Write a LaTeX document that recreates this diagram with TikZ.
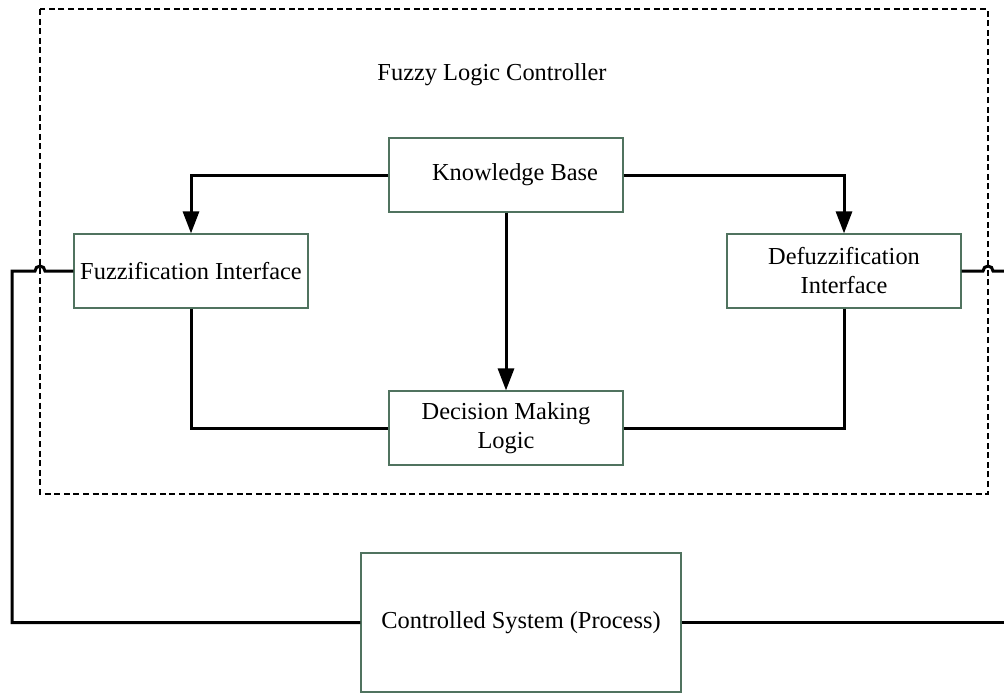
\documentclass[tikz,border=0pt]{standalone}
\usepackage{fontspec}
\setmainfont{Liberation Serif}
\usetikzlibrary{arrows.meta}
\definecolor{boxline}{RGB}{80,115,95}
\tikzset{
  block/.style={draw=boxline, line width=0.6pt, fill=white, minimum width=117pt,
    minimum height=37pt, inner sep=1pt, align=center,
    font=\fontsize{12.2}{14.5}\selectfont},
  link/.style={line width=1.5pt, black},
  flow/.style={link, -{Triangle[length=11pt, width=8pt]}},
  frame/.style={line width=1.3pt, dash pattern=on 3pt off 1.8pt},
  caption/.style={font=\fontsize{12.2}{14.5}\selectfont}
}
\begin{document}
\begin{tikzpicture}[x=0.5pt, y=-0.5pt]
  \useasboundingbox (0,0) rectangle (1004,693);

  % controller boundary
  \draw[frame] (40,9) rectangle (988,494);
  \node[caption] (title) at (492,75) {Fuzzy Logic Controller};

  % blocks
  \node[block] (kb) at (506,175) {\hspace*{9pt}Knowledge Base};
  \node[block] (fz) at (191,271) {Fuzzification Interface};
  \node[block] (df) at (844,271) {Defuzzification\\Interface};
  \node[block] (dm) at (506,428) {Decision Making\\Logic};
  \node[block, minimum width=160pt, minimum height=69.5pt] (cs) at (521,622.5)
    {Controlled System (Process)};

  % free ends at the right margin
  \coordinate (outA) at (1004,271);
  \coordinate (outB) at (1004,622.5);
  \coordinate (loopL) at (12,271);

  % knowledge base distribution
  \draw[flow] (kb.west) -| (fz.north);
  \draw[flow] (kb.east) -| (df.north);
  \draw[flow] (kb.south) -- (dm.north);

  % interfaces to decision making
  \draw[link] (fz.south) |- (dm.west);
  \draw[link] (df.south) |- (dm.east);

  % feedback loop with hops over the boundary
  \draw[link] (fz.west) -- (45,271) arc[start angle=0, end angle=-180, radius=5]
    -- (loopL) |- (cs.west);
  \draw[link] (df.east) -- (983,271) arc[start angle=180, end angle=360, radius=5]
    -- (outA);
  \draw[link] (cs.east) -- (outB);
\end{tikzpicture}
\end{document}
